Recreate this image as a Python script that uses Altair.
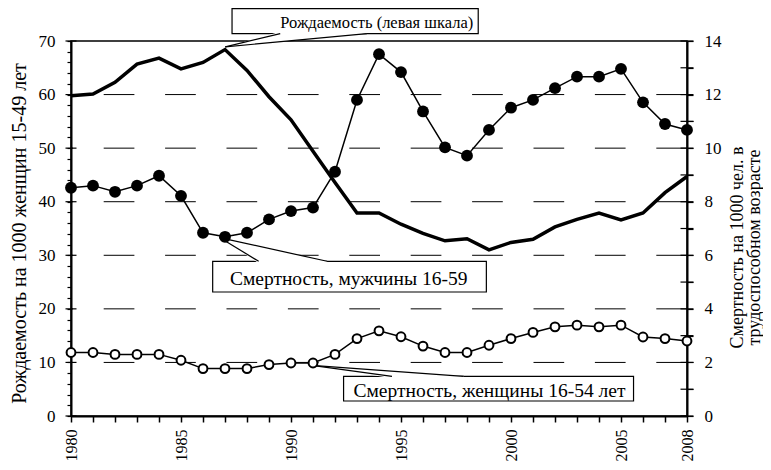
import altair as alt
import pandas as pd

FONT = "Liberation Serif"

# ---- data ----
years = list(range(1980, 2009))
births = [59.8, 60.1, 62.3, 65.7, 66.8, 64.8, 66.0, 68.4, 64.5, 59.6,
          55.3, 49.4, 43.6, 37.9, 37.9, 35.8, 34.1, 32.7, 33.1, 31.0,
          32.4, 33.0, 35.3, 36.7, 37.9, 36.6, 37.9, 41.7, 44.7]
men = [8.52, 8.60, 8.37, 8.60, 8.97, 8.22, 6.84, 6.69, 6.84, 7.34,
       7.65, 7.78, 9.12, 11.80, 13.51, 12.84, 11.37, 10.03, 9.72, 10.68,
       11.51, 11.80, 12.24, 12.67, 12.67, 12.96, 11.71, 10.90, 10.68]
women = [2.37, 2.37, 2.30, 2.30, 2.30, 2.08, 1.77, 1.77, 1.77, 1.92,
         1.98, 1.98, 2.30, 2.89, 3.18, 2.96, 2.61, 2.37, 2.37, 2.64,
         2.89, 3.12, 3.33, 3.39, 3.33, 3.39, 2.95, 2.89, 2.80]
left_tick_values = list(range(0, 71, 2))
left_major_values = list(range(0, 71, 10))
right_tick_values = list(range(0, 15))
grid_levels = [10, 20, 30, 40, 50, 60]
label_texts = ["Рождаемость (левая шкала)", "Смертность, мужчины 16-59",
               "Смертность, женщины 16-54 лет"]
left_title = "Рождаемость на 1000 женщин 15-49 лет"
right_title = ["Смертность на 1000 чел. в", "трудоспособном возрасте"]

df = pd.DataFrame({"year": years, "births": births, "men": men, "women": women})

# ---- callout geometry (in data units of year / left scale) ----
callouts = [
    dict(id=0, bx1=1987.32, bx2=1998.51, by1=71.38, by2=76.05,
         tx=1987.01, ty=68.9, b1=1989.51, b2=1993.45, yb=71.38,
         lx=1993.9, ly=72.37, fs=16.5),
    dict(id=1, bx1=1986.44, bx2=1998.88, by1=23.15, by2=28.88,
         tx=1986.75, ty=33.3, b1=1988.53, b2=1991.64, yb=28.88,
         lx=1992.62, ly=24.53, fs=19.5),
    dict(id=2, bx1=1992.39, bx2=2005.57, by1=2.80, by2=7.41,
         tx=1990.95, ty=9.46, b1=1994.59, b2=1997.85, yb=7.41,
         lx=1999.02, ly=3.55, fs=19.5),
]
box_rows, wedge_rows, edge_rows, text_rows = [], [], [], []
for c, t in zip(callouts, label_texts):
    box_rows.append(dict(id=c["id"], x1=c["bx1"], x2=c["bx2"], y1=c["by1"], y2=c["by2"]))
    sign = 1 if c["yb"] > c["ty"] else -1
    ybi = c["yb"] + sign * 0.35
    ymid = c["ty"] + (c["yb"] - c["ty"]) * (c["b1"] - c["tx"]) / (c["b2"] - c["tx"])
    wedge_rows += [
        dict(id=c["id"], x=c["tx"], y=c["ty"], y2=c["ty"]),
        dict(id=c["id"], x=c["b1"], y=ymid, y2=ybi),
        dict(id=c["id"], x=c["b2"], y=c["yb"], y2=ybi),
    ]
    edge_rows += [
        dict(x=c["tx"], y=c["ty"], x2=c["b1"], y2=c["yb"]),
        dict(x=c["tx"], y=c["ty"], x2=c["b2"], y2=c["yb"]),
    ]
    text_rows.append(dict(x=c["lx"], y=c["ly"], t=t, fs=c["fs"]))


def xsc():
    return alt.Scale(domain=[1980, 2008], nice=False, zero=False)


def ylsc():
    return alt.Scale(domain=[0, 70], nice=False, zero=False)


def yrsc():
    return alt.Scale(domain=[0, 14], nice=False, zero=False)


def xax():
    return alt.Axis(
        values=years, format="d",
        labelExpr="(datum.value % 5 === 0 || datum.value === 2008) ? datum.label : ''",
        labelAngle=-90, labelAlign="right", labelBaseline="middle",
        labelPadding=7, labelOverlap=False, labelFlush=False, labelBound=False,
        tickSize=6, tickWidth=1.5, tickColor="black", domainColor="black",
        domainWidth=2, labelFont=FONT, labelFontSize=16, labelColor="black",
        grid=False, title=None,
    )


def X(field):
    return alt.X(field, scale=xsc(), axis=xax())


# ---- left-scale marks ----
grid = alt.Chart(pd.DataFrame({"v": grid_levels})).mark_rule(
    color="black", strokeWidth=1, strokeDash=[30.7, 30.7]
).encode(y=alt.Y("v:Q", scale=ylsc(), axis=None))

boxes = alt.Chart(pd.DataFrame(box_rows)).mark_rect(
    fill="white", stroke="black", strokeWidth=1.2
).encode(
    x=X("x1:Q"), x2="x2:Q",
    y=alt.Y("y1:Q", scale=ylsc(), axis=None), y2="y2:Q",
)
wedges = alt.Chart(pd.DataFrame(wedge_rows)).mark_area(
    fill="white", opacity=1
).encode(
    x=X("x:Q"),
    y=alt.Y("y:Q", scale=ylsc(), axis=None), y2="y2:Q",
    detail="id:N",
)
edges = alt.Chart(pd.DataFrame(edge_rows)).mark_rule(
    color="black", strokeWidth=1.2
).encode(
    x=X("x:Q"), x2="x2:Q",
    y=alt.Y("y:Q", scale=ylsc(), axis=None), y2="y2:Q",
)
texts = alt.Chart(pd.DataFrame(text_rows)).mark_text(
    font=FONT, align="center", baseline="alphabetic", color="black"
).encode(
    x=X("x:Q"),
    y=alt.Y("y:Q", scale=ylsc(), axis=None),
    text="t:N",
    size=alt.Size("fs:Q", scale=None, legend=None),
)

births_line = alt.Chart(df).mark_line(color="black", strokeWidth=3.5).encode(
    x=X("year:Q"),
    y=alt.Y("births:Q", scale=ylsc(), axis=alt.Axis(
        values=left_tick_values,
        labelExpr="datum.value % 10 === 0 ? datum.label : ''",
        labelOverlap=False, labelFlush=False, labelPadding=12,
        tickSize=4, tickWidth=1.2, tickColor="black", domainColor="black",
        domainWidth=2, labelFont=FONT, labelFontSize=17, labelColor="black",
        grid=False, title=left_title, titleFont=FONT, titleFontSize=20,
        titleFontWeight="normal", titleColor="black", titleAngle=270,
        titleX=-52, titleY=192, titleAlign="center", titleBaseline="middle",
    )),
)
left_cross = alt.Chart(pd.DataFrame({"v": left_major_values})).mark_tick(
    orient="horizontal", size=11, thickness=1.2, color="black", opacity=1
).encode(
    x=alt.X(datum=1980, scale=xsc(), axis=xax()),
    y=alt.Y("v:Q", scale=ylsc(), axis=None),
)

# ---- right-scale marks ----
men_line = alt.Chart(df).mark_line(color="black", strokeWidth=1.5).encode(
    x=X("year:Q"),
    y=alt.Y("men:Q", scale=yrsc(), axis=alt.Axis(
        orient="right", values=right_tick_values,
        labelExpr="datum.value % 2 === 0 ? datum.label : ''",
        labelOverlap=False, labelFlush=False, labelPadding=11,
        tickSize=6, tickWidth=1.2, tickColor="black", domainColor="black",
        domainWidth=2, labelFont=FONT, labelFontSize=17, labelColor="black",
        grid=False, title=right_title, titleFont=FONT, titleFontSize=18,
        titleFontWeight="normal", titleColor="black", titleAngle=270,
        titleX=50, titleY=206, titleAlign="center", titleBaseline="middle",
        titleLineHeight=17,
    )),
)
men_pts = alt.Chart(df).mark_point(
    shape="circle", filled=True, color="black", size=140, opacity=1
).encode(
    x=X("year:Q"),
    y=alt.Y("men:Q", scale=yrsc(), axis=None),
)
women_line = alt.Chart(df).mark_line(color="black", strokeWidth=1.5).encode(
    x=X("year:Q"),
    y=alt.Y("women:Q", scale=yrsc(), axis=None),
)
women_pts = alt.Chart(df).mark_point(
    shape="circle", filled=True, fill="white", stroke="black",
    strokeWidth=2, size=78, opacity=1
).encode(
    x=X("year:Q"),
    y=alt.Y("women:Q", scale=yrsc(), axis=None),
)
right_cross = alt.Chart(pd.DataFrame({"v": right_tick_values})).mark_tick(
    orient="horizontal", size=13, thickness=1.2, color="black", opacity=1
).encode(
    x=alt.X(datum=2008, scale=xsc(), axis=xax()),
    y=alt.Y("v:Q", scale=yrsc(), axis=None),
)

chart = alt.layer(
    grid, boxes, wedges, edges, texts, births_line, left_cross,
    men_line, men_pts, women_line, women_pts, right_cross,
).resolve_scale(y="independent").properties(
    width=616, height=375,
    autosize=alt.AutoSizeParams(type="none"),
    padding={"left": 63, "top": 33, "right": 76, "bottom": 46},
    background="white",
).configure_view(stroke="black", strokeWidth=1.5).configure_axis(
    labelOverlap=False, labelFlush=False
)

chart.save("out.html", embed_options={"renderer": "svg", "actions": False})
